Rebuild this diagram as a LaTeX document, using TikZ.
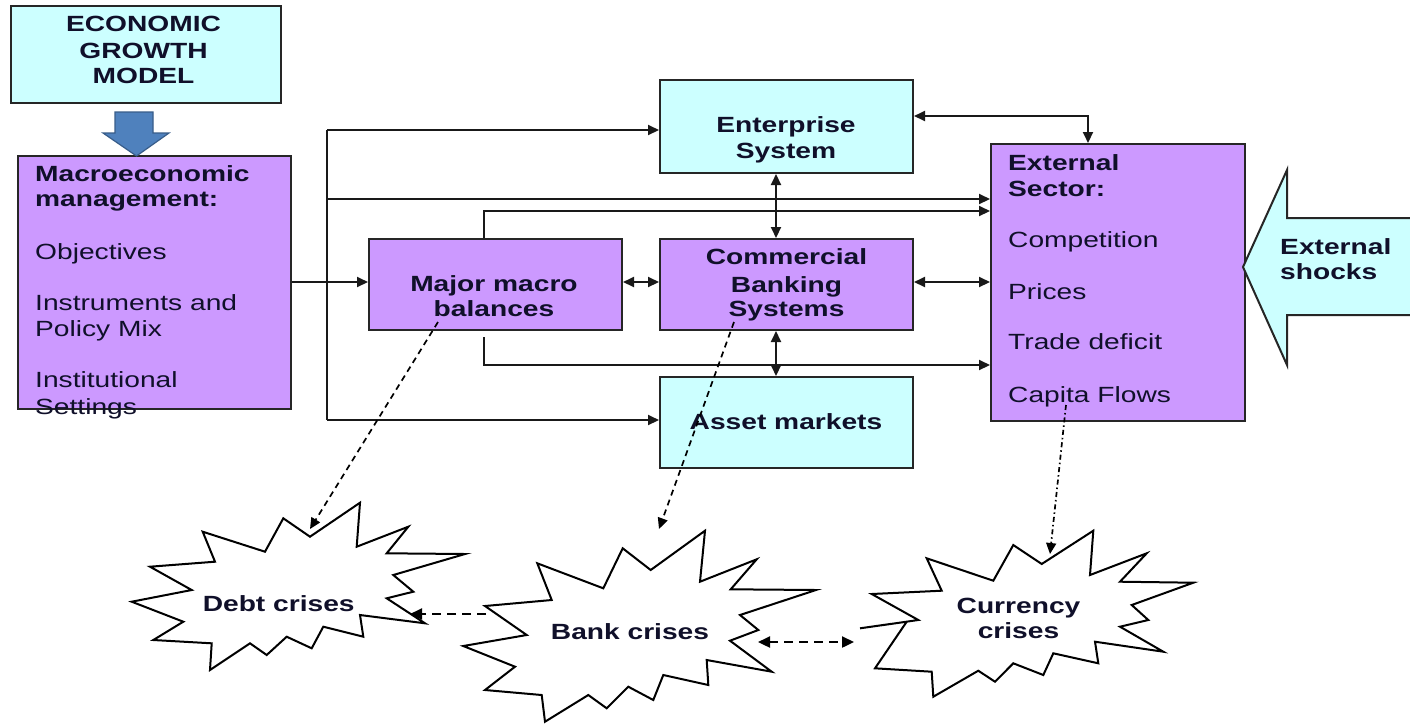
\documentclass[tikz,border=0pt]{standalone}
\usepackage{fontspec}
\setmainfont{Liberation Sans}[FakeStretch=1.28]
\usetikzlibrary{arrows.meta}
\definecolor{cy}{HTML}{CCFFFF}
\definecolor{pu}{HTML}{CC99FF}
\definecolor{bl}{HTML}{4F81BD}
\definecolor{bld}{HTML}{385D8A}
\definecolor{ink}{HTML}{10102A}
\begin{document}
\begin{tikzpicture}[x=1pt,y=-1pt,
  box/.style={draw=black!85,line width=2pt,inner sep=0pt,anchor=north west},
  tx/.style={anchor=base,inner sep=0pt,text=ink,font=\fontsize{22}{26}\selectfont},
  txl/.style={tx,anchor=base west},
  txb/.style={tx,font=\fontsize{22}{26}\selectfont\bfseries},
  txlb/.style={txl,font=\fontsize{22}{26}\selectfont\bfseries},
  con/.style={line width=2pt,draw=black!90},
  tip/.style={},
  arr/.style={con,-{Triangle[length=11pt,width=10pt]}},
  darr/.style={con,{Triangle[length=11pt,width=10pt]}-{Triangle[length=11pt,width=10pt]}},
  dsh/.style={line width=1.7pt,dash pattern=on 6pt off 4.5pt,-{Triangle[length=11pt,width=10pt]}},
  dshb/.style={line width=2.3pt,dash pattern=on 9pt off 6pt},
  dshdot/.style={line width=1.7pt,dash pattern=on 5pt off 3pt on 1.5pt off 3pt,-{Triangle[length=11pt,width=10pt]}},
  starsty/.style={draw=black,line width=2pt,fill=white,line join=miter}
]
\useasboundingbox[fill=white] (0,0) rectangle (1410,724);

% boxes
\node[box,fill=cy,minimum width=270pt,minimum height=97pt] (egm) at (10,5) {};
\node[box,fill=pu,minimum width=273pt,minimum height=253pt] (macro) at (17,155) {};
\node[box,fill=pu,minimum width=253pt,minimum height=91pt] (major) at (368,238) {};
\node[box,fill=cy,minimum width=253pt,minimum height=93pt] (ent) at (659,79) {};
\node[box,fill=pu,minimum width=253pt,minimum height=91pt] (com) at (659,238) {};
\node[box,fill=cy,minimum width=253pt,minimum height=91pt] (asset) at (659,376) {};
\node[box,fill=pu,minimum width=254pt,minimum height=277pt] (ext) at (990,143) {};

% blue arrow
\draw[fill=bl,draw=bld,line width=1.2pt] (115,112) -- (153,112) -- (153,133) -- (169,133) -- (136.5,156) -- (103,133) -- (115,133) -- cycle;

% external shocks arrow
\fill[cy] (1412,218) -- (1287,218) -- (1287,170) -- (1243,267) -- (1287,365) -- (1287,315) -- (1412,315) -- cycle;
\draw[line width=2pt,black!85,line join=miter] (1412,218) -- (1287,218) -- (1287,170) -- (1243,267) -- (1287,365) -- (1287,315) -- (1412,315);

% texts
\node[txb] (t1) at (143.5,31.5) {ECONOMIC};
\node[txb] (t2) at (143.5,58) {GROWTH};
\node[txb] (t3) at (143.5,83.5) {MODEL};

\node[txlb] (m1) at (35,181.7) {Macroeconomic};
\node[txlb] (m2) at (35,206.7) {management:};
\node[txl] (m3) at (35,259.3) {Objectives};
\node[txl] (m4) at (35,310) {Instruments and};
\node[txl] (m5) at (35,336.7) {Policy Mix};
\node[txl] (m6) at (35,387.7) {Institutional};
\node[txl] (m7) at (35,414.3) {Settings};

\node[txb] (j1) at (494,291.7) {Major macro};
\node[txb] (j2) at (494,316) {balances};

\node[txb] (e1) at (786,132.7) {Enterprise};
\node[txb] (e2) at (786,158.3) {System};

\node[txb] (c1) at (786.5,264) {Commercial};
\node[txb] (c2) at (786.5,292.3) {Banking};
\node[txb] (c3) at (786.5,316.7) {Systems};

\node[txb] (a1) at (786,429.3) {Asset markets};

\node[txlb] (x1) at (1008,170) {External};
\node[txlb] (x2) at (1008,196.7) {Sector:};
\node[txl] (x3) at (1008,247.7) {Competition};
\node[txl] (x4) at (1008,299.3) {Prices};
\node[txl] (x5) at (1008,349.3) {Trade deficit};
\node[txl] (x6) at (1008,402.3) {Capita Flows};

\node[txlb] (s1) at (1280,254) {External};
\node[txlb] (s2) at (1280,279) {shocks};

% connector coordinates
\coordinate (bt) at (327,130);
\coordinate (bb) at (327,420);
\coordinate (b2) at (327,199);
\coordinate (m2c) at (484,211);
\coordinate (m3c) at (484,337);
\coordinate (m4c) at (484,365);
\coordinate (yc) at (0,282);
\coordinate (vx) at (776,0);
\coordinate (ec) at (1088,116);

% connectors
\draw[con] (bt) -- (bb);
\draw[arr] (bt) -- (ent.west |- bt);
\draw[arr] (bb) -- (asset.west |- bb);
\draw[arr] (b2) -- (ext.west |- b2);
\draw[arr] (major.north -| m2c) -- (m2c) -- (ext.west |- m2c);
\draw[arr] (m3c) -- (m4c) -- (ext.west |- m4c);
\draw[arr] (macro.east |- yc) -- (major.west |- yc);
\draw[darr] (major.east |- yc) -- (com.west |- yc);
\draw[darr] (com.east |- yc) -- (ext.west |- yc);
\draw[darr] (ent.south -| vx) -- (com.north -| vx);
\draw[darr] (com.south -| vx) -- (asset.north -| vx);
\draw[darr] (ent.east |- ec) -- (ec) -- (ext.north -| ec);

% stars
\draw[starsty] (131.7,601.7) -- (191.7,590) -- (150,566.7) -- (215,561.7) -- (202.7,531.7) -- (265,551.7) -- (283.3,518.3) -- (310,536.7) -- (360,502.7) -- (356.7,546.7) -- (408.3,526.7) -- (386.7,553.3) -- (465,554) -- (393.3,575) -- (413.3,591.7) -- (386.7,598.3) -- (425,623.3) -- (360,615) -- (363.3,636.7) -- (323.3,626.7) -- (311.7,648.3) -- (286.7,636.7) -- (266.7,655) -- (250,643.3) -- (210,670) -- (211.7,643.3) -- (153.3,640) -- (183.3,621.7) -- cycle;
\draw[starsty] (463.3,646) -- (526.7,635) -- (485,606) -- (551.7,600) -- (537.3,563.3) -- (603.3,588.3) -- (622.7,548.3) -- (650.7,570) -- (705,530.7) -- (700,581.7) -- (756.7,559.3) -- (730.7,589.3) -- (816,590) -- (740,615) -- (758.3,630) -- (730,640.7) -- (771.7,671.7) -- (706.7,660) -- (708.3,685) -- (663.3,675) -- (653.3,700) -- (628.3,686.7) -- (606.7,708.3) -- (588.3,695) -- (545,721.7) -- (541.7,695) -- (485,690) -- (515,666.7) -- cycle;
\draw[starsty] (860,628.3) -- (918.3,620) -- (871.7,594) -- (941.7,590.7) -- (926.7,558.3) -- (993.3,580.7) -- (1013.3,545) -- (1041.7,564) -- (1093.3,530.7) -- (1090,575) -- (1146.7,553.3) -- (1120,581.7) -- (1193.3,582.7) -- (1131.7,605) -- (1148.3,620) -- (1120,626.7) -- (1163.3,651.7) -- (1095,641.7) -- (1098.3,663.3) -- (1053.3,653.3) -- (1043.3,675) -- (1013.3,663.3) -- (995,681.7) -- (978.3,670.7) -- (933.3,696.7) -- (931.7,671.7) -- (875,668.3) -- (906.7,621.7) -- cycle;

\node[txb] (d1) at (278.7,611.7) {Debt crises};
\node[txb] (k1) at (630,639) {Bank crises};
\node[txb] (u1) at (1018.5,613.3) {Currency};
\node[txb] (u2) at (1018.5,638.7) {crises};

% crisis coordinates
\coordinate (ds) at (438,322);
\coordinate (de) at (310,529);
\coordinate (cs) at (734,322);
\coordinate (ce) at (659,529);
\coordinate (xs) at (1066,405);
\coordinate (xe) at (1050,554);
\coordinate (bd1) at (486,614);
\coordinate (bd2) at (410,614);
\coordinate (bc1) at (758,642);
\coordinate (bc2) at (854,642);

\draw[dsh] (ds) -- (de);
\draw[dsh] (cs) -- (ce);
\draw[dshdot] (xs) -- (xe);
\draw[dshb,-{Triangle[length=12pt,width=11pt]}] (bd1) -- (bd2);
\draw[dshb,{Triangle[length=12pt,width=11pt]}-{Triangle[length=12pt,width=11pt]}] (bc1) -- (bc2);
\end{tikzpicture}
\end{document}
